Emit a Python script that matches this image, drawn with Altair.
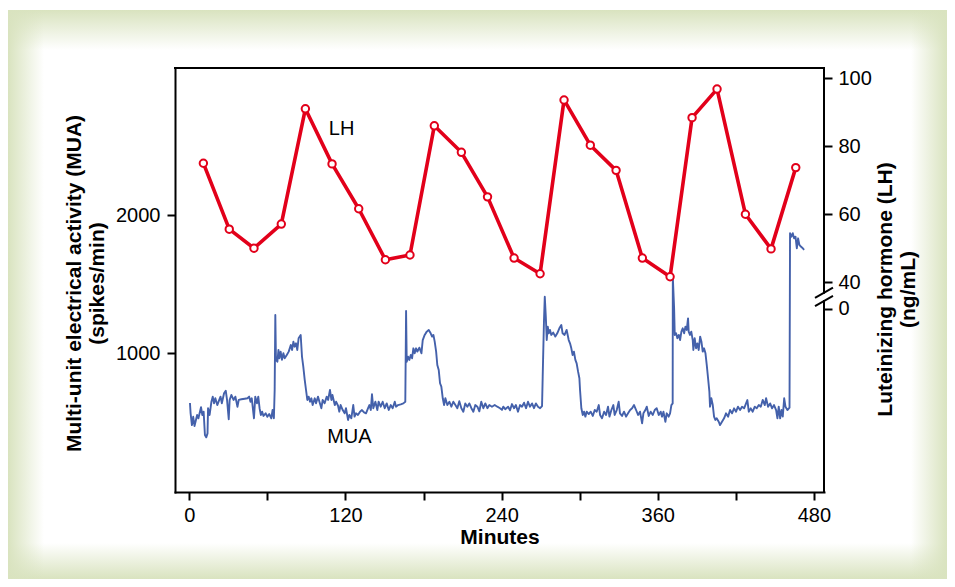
import altair as alt
import pandas as pd

# ---------------- data ----------------
mua_t = [0.5, 1, 2, 3, 4, 6, 7, 9, 10, 11, 12, 13, 14, 14.4, 15.6, 17, 18, 19, 20, 21.5, 23, 24, 25, 26.7, 28, 29,
         30.3, 31, 32.3, 34, 35.4, 37, 38, 40, 42.6, 44.7, 46, 47, 48, 49.7, 50.7, 52, 53, 54, 55, 56, 57, 58.7, 60,
         61.4, 63, 64, 65, 65.6, 66.1, 66.6, 67.7, 68.5, 69.2, 70.2, 71.2, 72.3, 73.3, 74.9, 76.4, 78, 79, 80, 81, 82,
         83, 84, 85.6, 86.6, 87.6, 88.7, 89.7, 90.7, 91.7, 92.8, 93.8, 94.8, 96.4, 97.4, 98.9, 100, 101.5, 102.5, 104,
         105.6, 106.7, 108.1, 109.2, 110, 111.8, 112.8,
         114.3, 115.3, 116.3, 117.9, 119.4, 120.4, 122, 123, 124.5, 126, 127, 128.1, 129.6, 131.2, 132.7, 134.3, 135.8,
         137.4, 138.4, 139.5, 140.4, 141.4, 143, 144.5, 145.5, 147.1, 148.6, 150.2, 151.7, 153.3, 154.8, 156.3, 157.9,
         158.9, 160.4, 162.5, 164.5, 166, 166.6, 167.1, 168.1, 169.1, 170.2, 171.2, 172.2, 173.2, 174.3, 175.3, 176.8,
         178.4, 179.4, 180.9, 182.5, 184, 185.5, 186.6, 187.6, 188.6, 189.7, 190.6, 191.7, 192.7, 193.7, 194.8, 195.8,
         196.8, 198.3, 199.9, 201.4, 202.9, 204.5, 206, 207.5, 209.1, 210.6, 212.1, 213.7, 215.2, 216.8, 218.3, 219.8,
         221.4, 222.9, 224.4, 226, 227.5, 229.1, 230.6, 232.6, 234.7, 236.7,
         238.8, 240.3, 241.3, 242.8, 245, 246.5, 248, 249.6, 251, 252.6, 254.2, 255.7, 257.3, 258.8, 260.3, 261.8,
         263.4, 264.9, 266.4, 268, 269.6, 271.1, 271.6, 272.6, 273.2, 274, 274.7, 275.5, 276.3, 277.2, 278.2, 279.7,
         281.3, 282.8, 284.4, 285.9, 286.9, 288.4, 290, 291.6, 292.6, 293.6, 294.6, 295.6, 296.7, 297.7, 298.8, 299.8,
         300.3, 301.3, 302.4, 303.4, 304.4, 305.4, 307, 308.5, 310.1, 311.6, 313.1, 314.7, 315.7, 317.2, 318.8, 320.3,
         321.8, 322.9, 324.4, 325.9, 326.9, 328.5, 330, 331, 332.6, 334.1, 335.7, 337.2, 338.8, 340.3, 341.8, 343.4,
         344.9, 346.4, 348, 349, 350.5, 351.6, 353.1, 354.6, 356.2, 357.7, 359.2, 360.8,
         362.3, 363.3, 364.4, 365.9, 366.9, 368.4, 369.5, 370.5, 371.5, 371.6, 372.6, 373.1, 374.1, 375.1, 376.2, 377.2,
         378.2, 379.2, 380.3, 381.3, 382.3, 383.3, 383.8, 384.8, 385.8, 386.9, 387.4, 388.4, 389.5, 390.5, 391.5, 392.6,
         393.6, 394.6, 395.6, 396.7, 397.7, 398.7, 399.7, 400.2, 401.2, 402.3, 403.3, 404.3, 405.3, 406.9, 407.9, 409.4,
         411, 412.5, 414.1, 415.6, 417.1, 418.7, 420.2, 421.7, 423.3, 424.8, 426.4, 427.9, 428.9, 430, 431.5, 433,
         434.6, 436.1, 437.7, 439.2, 440.7, 442.3, 443.3, 444.8, 446.4, 447.9, 449.4, 451, 452, 453, 454.1, 455.1,
         456.1, 457.2, 458.2, 459.7, 461.3, 461.7, 462.8, 463.8, 464.8, 465.9, 466.9, 467.9, 468.9, 470, 471.5, 472.5]
mua_v = [640, 565, 480, 540, 473, 553, 529, 609, 553, 577, 408, 391, 420, 602, 553, 649, 686, 638, 674, 625, 662, 686,
         638, 710, 729, 662, 522, 662, 698, 662, 686, 613, 662, 667, 671, 674, 686, 649, 674, 529, 686, 638, 686, 602,
         553, 577, 546, 565, 540, 560, 529, 589, 529, 734, 1278, 952, 939, 1024, 964, 1012, 952, 1000, 964, 988, 1012,
         1060, 1024, 1084, 1048, 1072, 1024, 1109, 1133, 976, 903, 807, 734, 662, 686, 649, 674, 625, 674, 638, 686,
         649, 602, 662, 638, 686, 662, 734, 662, 698, 625, 649,
         620, 577, 625, 589, 565, 602, 517, 553, 529, 625, 541, 565, 553, 577, 589, 572, 565, 602, 625, 589, 703, 602,
         649, 589, 649, 613, 649, 602, 637, 589, 625, 602, 649, 613, 625, 630, 637, 649, 1307, 939, 976, 952, 988, 964,
         1036, 1000, 1036, 1012, 1041, 1000, 1096, 1133, 1157, 1169, 1145, 1121, 1133, 1084, 1012, 915, 879, 783, 758,
         674, 625, 674, 625, 649, 613, 649, 625, 602, 653, 602, 577, 637, 613, 637, 602, 577, 625, 613, 580, 649, 602,
         637, 602, 625, 613, 625, 613,
         602, 590, 613, 595, 613, 587, 632, 602, 625, 577, 625, 613, 642, 602, 649, 613, 637, 602, 637, 613, 602, 618,
         831, 1241, 1410, 1265, 1096, 1193, 1145, 1169, 1133, 1150, 1121, 1145, 1181, 1205, 1145, 1133, 1169, 1096,
         1072, 1036, 988, 1012, 952, 927, 867, 819, 734, 602, 553, 577, 541, 577, 560, 577, 546, 589, 577, 625, 553,
         529, 577, 553, 613, 541, 589, 625, 553, 589, 649, 565, 546, 577, 541, 565, 589, 602, 625, 589, 553, 577, 493,
         565, 589, 613, 546, 577, 553, 589, 602, 553,
         577, 541, 577, 504, 565, 541, 565, 625, 637, 1555, 1326, 1133, 1145, 1109, 1133, 1096, 1157, 1181, 1145, 1193,
         1169, 1253, 1157, 1133, 1157, 1096, 1024, 1109, 1036, 1072, 1024, 1121, 1084, 1012, 1036, 1000, 915, 819, 722,
         613, 674, 625, 541, 517, 529, 504, 480, 504, 529, 565, 541, 589, 565, 601, 577, 613, 589, 613, 601, 637, 661,
         577, 601, 577, 613, 601, 625, 613, 662, 625, 674, 613, 637, 601, 625, 589, 529, 613, 529, 589, 541, 674, 613,
         589, 606, 1870, 1845, 1870, 1833, 1845, 1761, 1833, 1785, 1773, 1761, 1749]

lh_t = [10.8, 30.7, 49.7, 70.7, 89.2, 109.7, 130.2, 150.7, 169.6, 188.3, 209.1, 229.2, 249.6, 269.6, 288.0, 308.2,
        328.0, 348.2, 369.5, 386.4, 405.6, 427.4, 447.1, 466.1]
lh_v = [75.0, 55.6, 50.0, 57.1, 91.0, 74.8, 61.6, 46.6, 48.0, 86.0, 78.2, 65.1, 47.1, 42.5, 93.6, 80.3, 72.9, 47.1,
        41.6, 88.4, 96.8, 60.0, 49.8, 73.7]

x_ticks = [0, 60, 120, 180, 240, 300, 360, 420, 480]
mua_ticks = [1000, 2000]
lh_ticks = [32.2, 40, 60, 80, 100]          # 32.2 is the position of the broken-axis "0"

x_title = "Minutes"
mua_title = ["Multi-unit electrical activity (MUA)", "(spikes/min)"]
lh_title = ["Luteinizing hormone (LH)", "(ng/mL)"]

X_DOM = [-11, 487.8]
MUA_DOM = [-5, 3067]
LH_DOM = [-21.7, 103]

# series labels (data coordinates)
mua_label = {"t": [123], "mua": [394], "text": ["MUA"]}
lh_label = {"t": [117], "lh": [85.1], "text": ["LH"]}

# frame (top and right side, with axis break) in LH / minute units
frame = {"t": [-11, 487.8, 487.8], "t2": [487.8, 487.8, 487.8],
         "lh": [103, 36.9, -21.7], "lh2": [103, 103, 34.5]}
brk = {"t": [480.9, 480.9], "t2": [494.7, 494.7], "lh": [35.4, 33.0], "lh2": [38.4, 36.0]}

# ---------------- style ----------------
FONT = "Liberation Sans"
BLUE = "#4461ab"
RED = "#e2001a"
GREEN = "#d9e3bf"
W, H = 649, 424

mua_df = pd.DataFrame({"t": mua_t, "mua": mua_v})
lh_df = pd.DataFrame({"t": lh_t, "lh": lh_v})
one = pd.DataFrame({"k": [0]})

xs = alt.Scale(domain=X_DOM, nice=False, zero=False)
ys_mua = alt.Scale(domain=MUA_DOM, nice=False, zero=False)
ys_lh = alt.Scale(domain=LH_DOM, nice=False, zero=False)

common = dict(grid=False, labelFont=FONT, labelFontSize=20, labelColor="black",
              titleFont=FONT, titleFontSize=21, titleFontWeight="bold", titleColor="black",
              tickColor="black", tickWidth=2, tickSize=8, zindex=1)

x_axis = alt.Axis(values=x_ticks, labelExpr="datum.value % 120 == 0 ? datum.label : ''",
                  title=x_title, domainColor="black", domainWidth=2, domainCap="square",
                  labelPadding=5, titlePadding=1, **common)
mua_axis = alt.Axis(values=mua_ticks, format="d", title=mua_title, domainColor="black", domainWidth=2,
                    domainCap="square", labelPadding=7, titleX=-101, titleY=215, titleBaseline="middle",
                    titleLineHeight=23, **common)
lh_axis = alt.Axis(values=lh_ticks, orient="right", title=lh_title, domain=False,
                   labelExpr="datum.value < 35 ? '0' : datum.label", labelPadding=6,
                   titleAngle=270, titleX=61, titleY=221, titleBaseline="middle",
                   titleLineHeight=23, **common)

X = alt.X("t:Q", scale=xs, axis=x_axis)
Y_MUA = alt.Y("mua:Q", scale=ys_mua, axis=mua_axis)
Y_LH = alt.Y("lh:Q", scale=ys_lh, axis=lh_axis)


def band(x, x2, y, y2, horizontal, reverse):
    a, b = (1, 0) if reverse else (0, 1)
    grad = alt.LinearGradient(
        gradient="linear",
        stops=[alt.GradientStop(color=GREEN, offset=0),
               alt.GradientStop(color="rgba(217,227,191,0)", offset=1)],
        x1=a if horizontal else 0, x2=b if horizontal else 0,
        y1=0 if horizontal else a, y2=0 if horizontal else b)
    return alt.Chart(one).mark_rect(fill=grad, strokeWidth=0).encode(
        x=alt.value(x), x2=alt.value(x2), y=alt.value(y), y2=alt.value(y2))


L, T, R, B = -167, -58, 772, 511
bands = [
    band(L, R, T, T + 40, False, False),
    band(L, R, B - 36, B, False, True),
    band(L, L + 36, T, B, True, False),
    band(R - 36, R, T, B, True, True),
]

mua_line = alt.Chart(mua_df).mark_line(color=BLUE, strokeWidth=1.9, strokeJoin="round").encode(
    x=X, y=Y_MUA, order="t:Q")
mua_text = alt.Chart(pd.DataFrame(mua_label)).mark_text(
    font=FONT, fontSize=20, color="black", align="center", baseline="middle").encode(
    x=X, y=Y_MUA, text="text:N")

left = alt.layer(mua_line, mua_text)

lh_line = alt.Chart(lh_df).mark_line(color=RED, strokeWidth=3.6, strokeJoin="round").encode(x=X, y=Y_LH)
lh_pts = alt.Chart(lh_df).mark_point(shape="circle", filled=True, fill="white", stroke=RED,
                                      strokeWidth=2, size=55, opacity=1).encode(x=X, y=Y_LH)
lh_text = alt.Chart(pd.DataFrame(lh_label)).mark_text(
    font=FONT, fontSize=20, color="black", align="center", baseline="middle").encode(
    x=X, y=Y_LH, text="text:N")
frame_rules = alt.Chart(pd.DataFrame(frame)).mark_rule(color="black", strokeWidth=2, strokeCap="square").encode(
    x=X, x2="t2:Q", y=Y_LH, y2="lh2:Q")
brk_rules = alt.Chart(pd.DataFrame(brk)).mark_rule(color="black", strokeWidth=2).encode(
    x=X, x2="t2:Q", y=Y_LH, y2="lh2:Q")

right = alt.layer(frame_rules, brk_rules, lh_line, lh_pts, lh_text)

chart = alt.layer(*bands, left, right).resolve_scale(y="independent").properties(
    width=W, height=H,
    padding={"left": 167, "top": 60, "right": 123, "bottom": 87},
    autosize=alt.AutoSizeParams(type="none"),
    background="white",
).configure_view(stroke=None)

chart.save("out.html", embed_options={"renderer": "svg", "actions": False})
